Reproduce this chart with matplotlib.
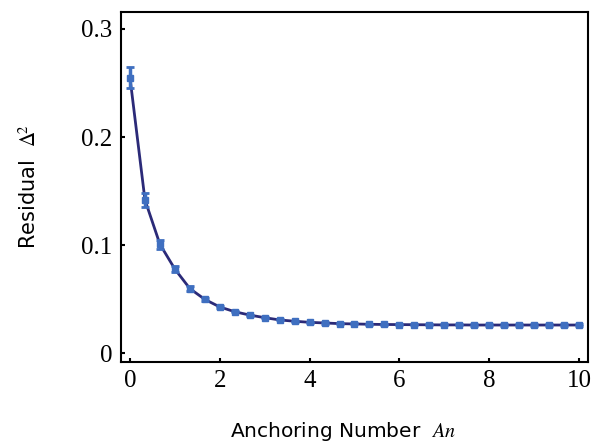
import numpy as np
import matplotlib
matplotlib.use("Agg")
import matplotlib.pyplot as plt

plt.rcParams['mathtext.fontset'] = 'stix'

# Residual vs anchoring number (31 points, step 1/3)
an = np.arange(31) / 3.0
residual = [0.255, 0.142, 0.101, 0.078, 0.060, 0.050, 0.043, 0.0386,
            0.0355, 0.0331, 0.0310, 0.0298, 0.0288, 0.0282, 0.0276, 0.0273,
            0.0270, 0.0268, 0.0267, 0.0266, 0.0265, 0.0264, 0.0264, 0.0263,
            0.0263, 0.0263, 0.0263, 0.0263, 0.0263, 0.0263, 0.0263]
err = [0.010, 0.0065, 0.004, 0.003, 0.002, 0.0015, 0.001] + [0.0005] * 24

xticks = [0, 2, 4, 6, 8, 10]
yticks = [0, 0.1, 0.2, 0.3]
yticklabels = ['0', '0.1', '0.2', '0.3']

fig = plt.figure(figsize=(5.92, 4.43), dpi=100)
ax = fig.add_axes([0.2044, 0.1828, 0.7888, 0.7901])

ax.plot(an, residual, color='#2b2a78', lw=2, zorder=2)
ax.errorbar(an, residual, yerr=err, fmt='s', color='#3f6fc0', ms=5,
            ecolor='#3f6fc0', elinewidth=2.5, capsize=3, capthick=2, zorder=3)

ax.set_xlim(-0.2, 10.2)
ax.set_ylim(-0.0079, 0.3157)
ax.set_xticks(xticks)
ax.set_yticks(yticks)
ax.set_yticklabels(yticklabels)
for lab in ax.get_xticklabels() + ax.get_yticklabels():
    lab.set_fontfamily('Liberation Serif')
    lab.set_fontsize(18)
ax.tick_params(direction='in', length=3, width=1.5, top=False, right=False,
               pad=6)
for s in ax.spines.values():
    s.set_linewidth(1.5)

ax.set_xlabel('Anchoring Number  $An$', fontsize=14.5)
ax.xaxis.set_label_coords(0.475, -0.165)
ax.xaxis.label.set_va('top')
ax.set_ylabel('Residual  $\\Delta^{\\!2}$', fontsize=15, labelpad=30)

fig.savefig('out.png', dpi=100)
